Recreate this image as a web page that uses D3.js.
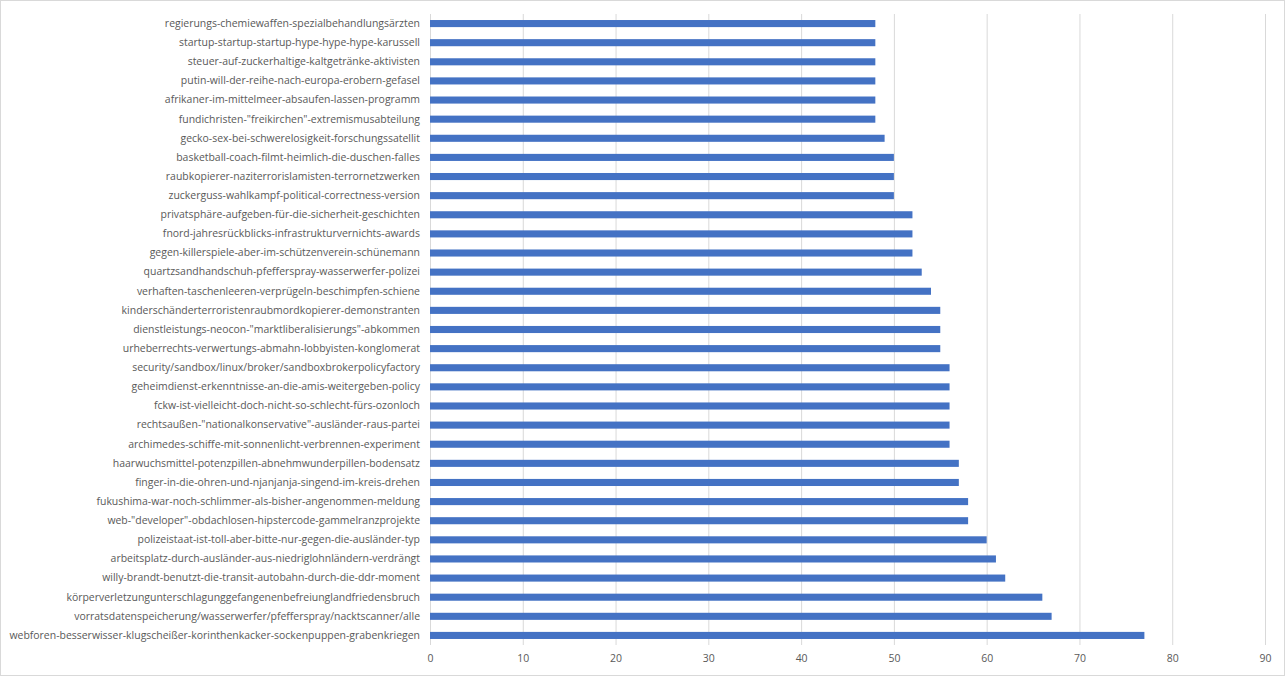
<!DOCTYPE html>
<html>
<head>
<meta charset="utf-8">
<script src="https://cdn.jsdelivr.net/npm/d3@7"></script>
<style>
html,body{margin:0;padding:0;background:#fff;}
svg{display:block;}
</style>
</head>
<body>
<script>
const categories = [
  "regierungs-chemiewaffen-spezialbehandlungsärzten",
  "startup-startup-startup-hype-hype-hype-karussell",
  "steuer-auf-zuckerhaltige-kaltgetränke-aktivisten",
  "putin-will-der-reihe-nach-europa-erobern-gefasel",
  "afrikaner-im-mittelmeer-absaufen-lassen-programm",
  "fundichristen-\"freikirchen\"-extremismusabteilung",
  "gecko-sex-bei-schwerelosigkeit-forschungssatellit",
  "basketball-coach-filmt-heimlich-die-duschen-falles",
  "raubkopierer-naziterrorislamisten-terrornetzwerken",
  "zuckerguss-wahlkampf-political-correctness-version",
  "privatsphäre-aufgeben-für-die-sicherheit-geschichten",
  "fnord-jahresrückblicks-infrastrukturvernichts-awards",
  "gegen-killerspiele-aber-im-schützenverein-schünemann",
  "quartzsandhandschuh-pfefferspray-wasserwerfer-polizei",
  "verhaften-taschenleeren-verprügeln-beschimpfen-schiene",
  "kinderschänderterroristenraubmordkopierer-demonstranten",
  "dienstleistungs-neocon-\"marktliberalisierungs\"-abkommen",
  "urheberrechts-verwertungs-abmahn-lobbyisten-konglomerat",
  "security/sandbox/linux/broker/sandboxbrokerpolicyfactory",
  "geheimdienst-erkenntnisse-an-die-amis-weitergeben-policy",
  "fckw-ist-vielleicht-doch-nicht-so-schlecht-fürs-ozonloch",
  "rechtsaußen-\"nationalkonservative\"-ausländer-raus-partei",
  "archimedes-schiffe-mit-sonnenlicht-verbrennen-experiment",
  "haarwuchsmittel-potenzpillen-abnehmwunderpillen-bodensatz",
  "finger-in-die-ohren-und-njanjanja-singend-im-kreis-drehen",
  "fukushima-war-noch-schlimmer-als-bisher-angenommen-meldung",
  "web-\"developer\"-obdachlosen-hipstercode-gammelranzprojekte",
  "polizeistaat-ist-toll-aber-bitte-nur-gegen-die-ausländer-typ",
  "arbeitsplatz-durch-ausländer-aus-niedriglohnländern-verdrängt",
  "willy-brandt-benutzt-die-transit-autobahn-durch-die-ddr-moment",
  "körperverletzungunterschlagunggefangenenbefreiunglandfriedensbruch",
  "vorratsdatenspeicherung/wasserwerfer/pfefferspray/nacktscanner/alle",
  "webforen-besserwisser-klugscheißer-korinthenkacker-sockenpuppen-grabenkriegen"
];
const values = [48,48,48,48,48,48,49,50,50,50,52,52,52,53,54,55,55,55,56,56,56,56,56,57,57,58,58,60,61,62,66,67,77];
const tickValues = [0,10,20,30,40,50,60,70,80,90];

const W = 1285, H = 676;
const svg = d3.select("body").append("svg").attr("width", W).attr("height", H);

svg.append("rect").attr("x",0.5).attr("y",0.5).attr("width",W-1).attr("height",H-1)
  .attr("fill","#fff").attr("stroke","#d9d9d9");

const x = d3.scaleLinear().domain([0,90]).range([430,1265]);
const y = d3.scaleBand().domain(categories).range([14,645]).paddingInner(0.63).paddingOuter(0.315);

const font = "'Open Sans', 'Liberation Sans', sans-serif";

// gridlines
const grid = svg.append("g")
  .attr("transform","translate(0,645)")
  .call(d3.axisBottom(x).tickValues(tickValues).tickSize(-631).tickFormat(""));
grid.select(".domain").remove();
grid.selectAll("line").attr("stroke","#d9d9d9").attr("stroke-width",1);

// bars
svg.append("g").selectAll("rect").data(values).join("rect")
  .attr("x", x(0))
  .attr("y", (d,i) => y(categories[i]))
  .attr("width", d => x(d) - x(0))
  .attr("height", y.bandwidth())
  .attr("fill", "#4472c4");

// category axis labels
const yAxis = svg.append("g")
  .attr("transform","translate(430,0)")
  .call(d3.axisLeft(y).tickSize(0).tickPadding(10));
yAxis.select(".domain").remove();
const labels = yAxis.selectAll("text")
  .attr("fill","#595959")
  .style("font-family", font)
  .style("font-size","11px");

// fit longest label width to reference (~411 px)
let maxW = 0;
labels.each(function(){ maxW = Math.max(maxW, this.getComputedTextLength()); });
const fs = 11 * 411 / maxW;
labels.style("font-size", fs.toFixed(2) + "px");

// x axis tick labels
const xAxis = svg.append("g")
  .attr("transform","translate(0,655)")
  .call(d3.axisBottom(x).tickValues(tickValues).tickSize(0).tickPadding(0));
xAxis.select(".domain").remove();
xAxis.selectAll("text")
  .attr("fill","#595959")
  .attr("dy","0.71em")
  .style("font-family", font)
  .style("font-size", fs.toFixed(2) + "px");
</script>
</body>
</html>
